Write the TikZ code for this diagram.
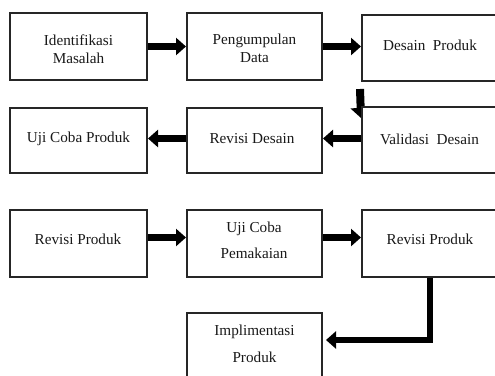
\documentclass[tikz,border=0pt]{standalone}
\usepackage{fontspec}
\setmainfont{Liberation Serif}
\usetikzlibrary{arrows.meta,backgrounds}
\begin{document}
\begin{tikzpicture}[x=1pt,y=-1pt,
  box/.style={draw=black!85,line width=1.2pt,fill=white,rectangle,inner sep=0pt,outer sep=0pt},
  txt/.style={font=\fontsize{15.2}{18}\selectfont,align=center,inner sep=0pt,text=black!90},
  arr/.style={line width=7pt,-{Triangle[length=10pt,width=17pt]},black}]
\useasboundingbox (0,0) rectangle (495,375);
% boxes
\node[box,minimum width=137pt,minimum height=67pt] (A) at (78.5,46.5) {};
\node[box,minimum width=135pt,minimum height=67pt] (B) at (254.5,46.5) {};
\node[box,minimum width=138pt,minimum height=66pt] (C) at (431,48) {};
\node[box,minimum width=137pt,minimum height=65pt] (D) at (78.5,140.5) {};
\node[box,minimum width=135pt,minimum height=65pt] (E) at (254.5,140.5) {};
\node[box,minimum width=138pt,minimum height=66pt] (F) at (431,140) {};
\node[box,minimum width=137pt,minimum height=67pt] (G) at (78.5,243.5) {};
\node[box,minimum width=135pt,minimum height=67pt] (H) at (254.5,243.5) {};
\node[box,minimum width=138pt,minimum height=67pt] (I) at (431,243.5) {};
\node[box,minimum width=135pt,minimum height=67pt] (J) at (254.5,346.5) {};
% texts
\node[txt] (tA) at (78.5,49) {Identifikasi\\Masalah};
\node[txt] (tB) at (254.5,48.5) {Pengumpulan\\Data};
\node[txt] (tC) at (430,45) {Desain\ \ Produk};
\node[txt] (tD) at (78.5,139) {Uji Coba Produk};
\node[txt] (tE) at (252,139) {Revisi Desain};
\node[txt] (tF) at (429.5,139) {Validasi\ \ Desain};
\node[txt] (tG) at (78,239) {Revisi Produk};
\node[txt] (tH) at (254,240.5) {Uji Coba\\[8pt]Pemakaian};
\node[txt] (tI) at (430,239) {Revisi Produk};
\node[txt] (tJ) at (254.5,344) {Implimentasi\\[9pt]Produk};
% arrows
\begin{scope}[on background layer]
\draw[arr,shorten >=1pt] (A.east) -- (A.east -| B.west);
\draw[arr,shorten >=1pt] (B.east) -- (B.east -| C.west);
\draw[arr,line width=8pt,-{Triangle[length=10pt,width=20pt]}] ([xshift=-2pt,yshift=-8pt]C.south west) -- ([xshift=-1pt,yshift=-11pt]F.north west);
\draw[arr,shorten >=1pt] ([yshift=1.5pt]F.west) -- ([yshift=1.5pt]F.west -| E.east);
\draw[arr,shorten >=1pt] ([yshift=2pt]E.west) -- ([yshift=2pt]E.west -| D.east);
\draw[arr,shorten >=1pt] ([yshift=6pt]G.east) -- ([yshift=6pt]G.east -| H.west);
\draw[arr,shorten >=1pt] ([yshift=6pt]H.east) -- ([yshift=6pt]H.east -| I.west);
\draw[arr,line width=6pt,shorten >=4pt] ([xshift=-1pt]I.south) |- ([yshift=6.5pt]J.east);
\end{scope}
\end{tikzpicture}
\end{document}
